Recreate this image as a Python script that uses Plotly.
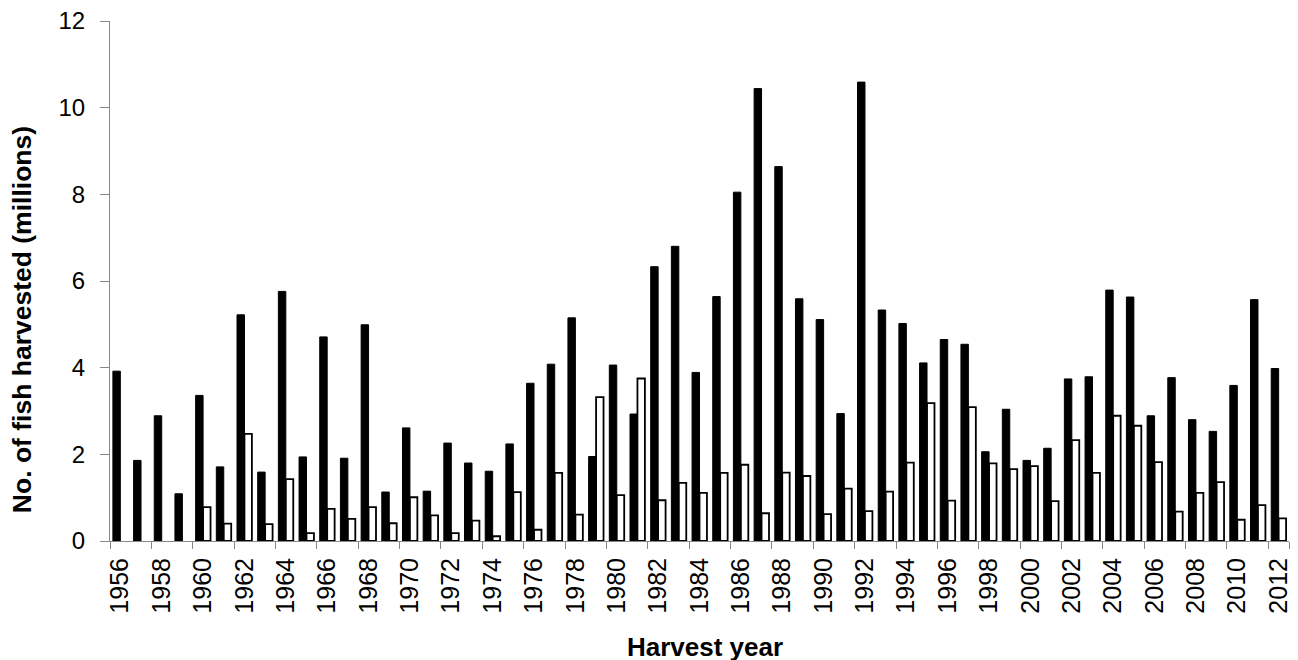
import plotly.graph_objects as go

years = [str(y) for y in range(1956, 2013)]
black_vals = [3.92, 1.86, 2.89, 1.09, 3.36, 1.71, 5.22, 1.59, 5.76, 1.94,
              4.71, 1.91, 4.99, 1.13, 2.61, 1.15, 2.26, 1.80, 1.61, 2.24,
              3.64, 4.08, 5.15, 1.95, 4.06, 2.93, 6.33, 6.80, 3.89, 5.64,
              8.05, 10.44, 8.64, 5.59, 5.11, 2.94, 10.59, 5.33, 5.02, 4.11,
              4.65, 4.54, 2.06, 3.04, 1.86, 2.14, 3.74, 3.79, 5.79, 5.63,
              2.89, 3.77, 2.80, 2.53, 3.59, 5.57, 3.98]
white_vals = [None, None, None, None, 0.78, 0.40, 2.47, 0.39, 1.43, 0.18,
              0.74, 0.51, 0.78, 0.41, 1.01, 0.59, 0.18, 0.47, 0.11, 1.13,
              0.26, 1.57, 0.61, 3.32, 1.06, 3.75, 0.94, 1.34, 1.11, 1.57,
              1.76, 0.64, 1.58, 1.50, 0.62, 1.21, 0.69, 1.14, 1.81, 3.18,
              0.93, 3.09, 1.79, 1.66, 1.73, 0.92, 2.33, 1.57, 2.89, 2.66,
              1.82, 0.68, 1.11, 1.36, 0.49, 0.83, 0.52]
tick_labels = years[::2]
y_ticks = [0, 2, 4, 6, 8, 10, 12]

FONT = "Liberation Sans, Arial, sans-serif"

fig = go.Figure()
fig.add_trace(go.Bar(x=years, y=black_vals, marker=dict(color="black", line=dict(color="black", width=1)),
                     showlegend=False))
fig.add_trace(go.Bar(x=years, y=white_vals, marker=dict(color="white", line=dict(color="black", width=1.8)),
                     showlegend=False))

fig.update_layout(
    width=1298, height=660,
    margin=dict(l=102, r=17, t=13, b=127),
    paper_bgcolor="white", plot_bgcolor="white",
    barmode="group", bargap=0.28, bargroupgap=0.0,
    font=dict(family=FONT, color="black"),
    annotations=[
        dict(text="<b>Harvest year</b>", xref="paper", yref="paper", x=0.5047, y=-0.204,
             xanchor="center", yanchor="middle", showarrow=False,
             font=dict(size=26, family=FONT, color="black")),
        dict(text="<b>No. of fish harvested (millions)</b>", xref="paper", yref="paper",
             x=-0.0745, y=0.425, textangle=-90, xanchor="center", yanchor="middle", showarrow=False,
             font=dict(size=26.5, family=FONT, color="black")),
    ],
)
fig.update_xaxes(
    type="category", tickmode="array", tickvals=tick_labels, ticktext=tick_labels,
    tickson="boundaries", ticks="outside", ticklen=7, tickcolor="#888888", tickwidth=1,
    tickangle=-90, tickfont=dict(size=25, family=FONT, color="black"), automargin=False,
    ticklabelstandoff=6, ticklabeloverflow="allow",
    showline=True, linecolor="#888888", linewidth=1, showgrid=False,
)
fig.update_yaxes(
    range=[0, 12], tickvals=y_ticks, ticks="outside", ticklen=9, tickcolor="#888888",
    tickfont=dict(size=24, family=FONT, color="black"), automargin=False,
    ticklabelstandoff=10, ticklabeloverflow="allow",
    showline=True, linecolor="#888888", linewidth=1, showgrid=False, zeroline=False,
)

fig.write_html("out.html")
